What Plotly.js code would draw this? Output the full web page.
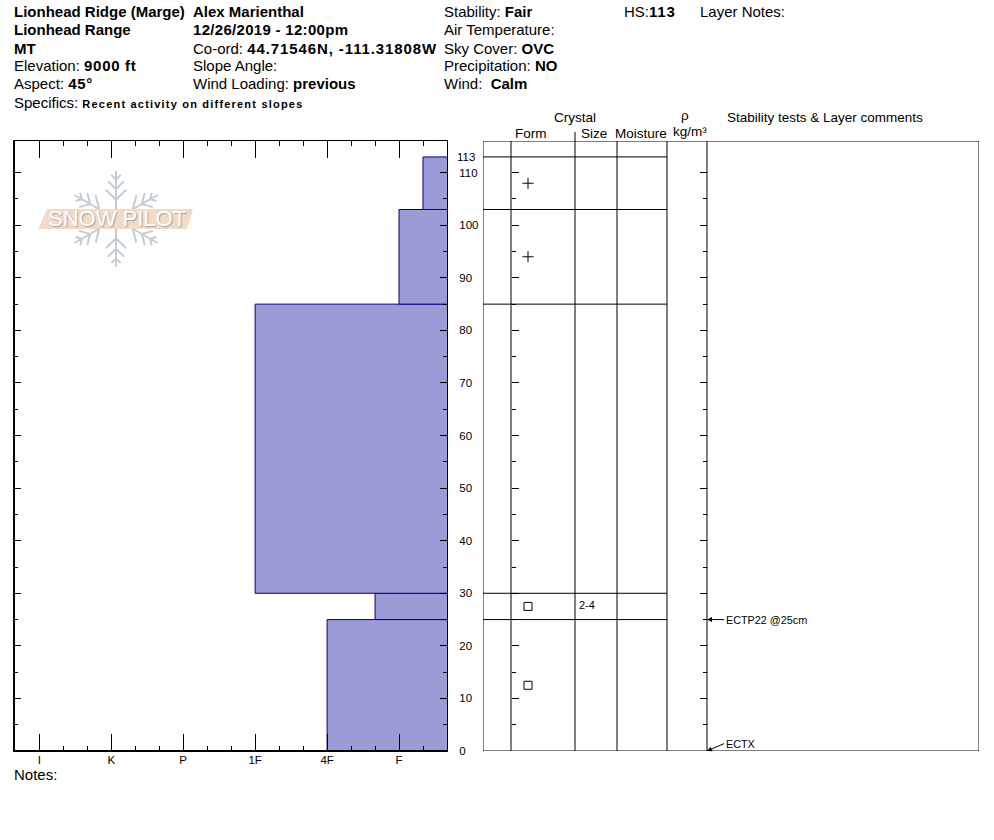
<!DOCTYPE html>
<html><head><meta charset="utf-8">
<script src="https://cdn.plot.ly/plotly-3.0.1.min.js"></script>
<style>html,body{margin:0;padding:0;background:#fff}</style>
</head><body><div id="chart" style="width:994px;height:840px"></div>
<script>
// ---------- DATA ----------
const layerBottoms = [0, 25, 30, 85, 103];
const layerTops    = [25, 30, 85, 103, 113];
const layerHardness = ['4F', 'F+', '1F', 'F', 'F-'];
const layerGrainForm = ['square', 'square', '', 'plus', 'plus'];
const layerGrainSize = ['', '2-4', '', '', ''];
const hardnessTickLabels = ['I', 'K', 'P', '1F', '4F', 'F'];
const hardnessTickValues = [6, 5, 4, 3, 2, 1];
const depthTicks = [0, 10, 20, 30, 40, 50, 60, 70, 80, 90, 100, 110];
const depthMinorTicks = [5, 15, 25, 35, 45, 55, 65, 75, 85, 95, 105];
const totalDepth = 113;
const testDepths = [25, 0];
const testLabels = ['ECTP22 @25cm', 'ECTX'];

// ---------- HELPERS ----------
const W = 994, H = 840;
const px = x => x / W;
const py = y => 1 - y / H;
const hardMap = {'F-':0.667,'F':1,'F+':1.333,'4F-':1.667,'4F':2,'4F+':2.333,'1F-':2.667,'1F':3,'1F+':3.333,'P-':3.667,'P':4,'P+':4.333,'K-':4.667,'K':5,'K+':5.333,'I':6};
const hardnessNum = layerHardness.map(h => hardMap[h]);
const mids = layerBottoms.map((b, i) => (b + layerTops[i]) / 2);
const thick = layerBottoms.map((b, i) => layerTops[i] - b);
const minorHard = [];
for (let k = 1; k <= 6; k++) { minorHard.push(k - 1/3); if (k < 6) minorHard.push(k + 1/3); }

const FONT = 'Liberation Sans, Arial, sans-serif';
const yRange = [0, 116.03];
const yDomain = [py(751), py(141)];
const colForm = 528, colSizeText = 579;
const tableLeft = 483, tableRight = 979;
const colLines = [511, 575, 617, 667, 707];
const layerLineEnd = 667;

// ---------- TRACES ----------
const traces = [];
traces.push({
  type: 'bar', orientation: 'h', x: hardnessNum, y: mids, width: thick, base: 0,
  xaxis: 'x', yaxis: 'y',
  marker: {color: '#9b9bd6', line: {color: '#000080', width: 1}},
  hoverinfo: 'skip', showlegend: false
});
const symMap = {square: 'square-open', plus: 'cross-thin-open'};
const fIdx = layerGrainForm.map((f, i) => f ? i : -1).filter(i => i >= 0);
traces.push({
  type: 'scatter', mode: 'markers', xaxis: 'x2', yaxis: 'y2',
  x: fIdx.map(() => colForm), y: fIdx.map(i => mids[i]),
  marker: {symbol: fIdx.map(i => symMap[layerGrainForm[i]]), size: 8,
    color: 'black', line: {color: 'black', width: 1}},
  hoverinfo: 'skip', showlegend: false, cliponaxis: false
});
const sIdx = layerGrainSize.map((s, i) => s ? i : -1).filter(i => i >= 0);
traces.push({
  type: 'scatter', mode: 'text', xaxis: 'x2', yaxis: 'y2',
  x: sIdx.map(() => colSizeText), y: sIdx.map(i => mids[i]), text: sIdx.map(i => layerGrainSize[i]),
  textposition: 'middle right', textfont: {family: FONT, size: 11, color: 'black'},
  hoverinfo: 'skip', showlegend: false
});
traces.push({type:'scatter', x:[null], y:[null], xaxis:'x', yaxis:'y3', showlegend:false, hoverinfo:'skip'});
traces.push({type:'scatter', x:[null], y:[null], xaxis:'x2', yaxis:'y4', showlegend:false, hoverinfo:'skip'});
traces.push({type:'scatter', x:[null], y:[null], xaxis:'x2', yaxis:'y5', showlegend:false, hoverinfo:'skip'});

// ---------- SHAPES ----------
const shapes = [];
shapes.push({type:'line', xref:'paper', yref:'paper', x0:px(14), x1:px(14), y0:py(751), y1:py(141), line:{color:'black', width:2}});
shapes.push({type:'line', xref:'paper', yref:'paper', x0:px(14), x1:px(447), y0:py(751), y1:py(751), line:{color:'black', width:2}});
shapes.push({type:'rect', xref:'x2', yref:'y2', x0:tableLeft, x1:tableRight, y0:yRange[0], y1:yRange[1], line:{color:'black', width:1}});
colLines.forEach(c => shapes.push({type:'line', xref:'x2', yref:'y2', x0:c, x1:c, y0:yRange[0], y1:yRange[1], line:{color:'black', width:1}}));
shapes.push({type:'line', xref:'x2', yref:'paper', x0:575, x1:575, y0:py(132), y1:py(141), line:{color:'black', width:1}});
layerTops.forEach(t => shapes.push({type:'line', xref:'x2', yref:'y2', x0:tableLeft, x1:layerLineEnd, y0:t, y1:t, line:{color:'black', width:1}}));

// logo: snowflake + banner
(function(){
  const cx = 116, cy = 219, R = 48;
  let d = '';
  const P = (x, y) => px(x).toFixed(5) + ',' + py(y).toFixed(5);
  [90, 30, -30, -90, 150, 210].forEach(a => {
    const r = a * Math.PI / 180;
    const ux = Math.cos(r), uy = -Math.sin(r);
    d += 'M' + P(cx + ux*4, cy + uy*4) + 'L' + P(cx + ux*R, cy + uy*R);
    [0.4, 0.62, 0.82].forEach((t, j) => {
      const bx = cx + ux*R*t, by = cy + uy*R*t;
      const L = R * [0.3, 0.24, 0.14][j];
      [45, -45].forEach(b => {
        const rb = (a + b) * Math.PI / 180;
        d += 'M' + P(bx, by) + 'L' + P(bx + Math.cos(rb)*L, by - Math.sin(rb)*L);
      });
    });
  });
  shapes.push({type:'path', xref:'paper', yref:'paper', path:d, line:{color:'#c2ccd3', width:2}, layer:'below'});
  const b = 'M' + P(47,209) + 'L' + P(193,209) + 'L' + P(187,229) + 'L' + P(38,229) + 'Z';
  shapes.push({type:'path', xref:'paper', yref:'paper', path:b, fillcolor:'#f2dac4', line:{width:0}, layer:'below'});
})();

// ---------- ANNOTATIONS ----------
const ann = [];
const txt = (x, y, t, size, anchor) => ann.push({xref:'paper', yref:'paper', x:px(anchor==='center'?x:x-2), y:py(y), text:t,
  showarrow:false, xanchor:anchor||'left', yanchor:'middle', font:{family:FONT, size:size||15, color:'black'}});
const wide = (t, s) => '<b><span style="letter-spacing:' + s + 'px">' + t + '</span></b>';
txt(14, 12, '<b>Lionhead Ridge (Marge)</b>');
txt(14, 30, '<b>Lionhead Range</b>');
txt(14, 48, '<b>MT</b>');
txt(14, 66, 'Elevation: ' + wide('9000 ft', 0.7));
txt(14, 84, 'Aspect: ' + wide('45°', 0.7));
txt(14, 102, 'Specifics: <span style="font-size:11px;font-weight:bold;letter-spacing:1.2px">Recent activity on different slopes</span>');
txt(193, 12, '<b>Alex Marienthal</b>');
txt(193, 30, wide('12/26/2019 - 12:00pm', 0.3));
txt(193, 48, 'Co-ord: ' + wide('44.71546N, -111.31808W', 0.9));
txt(193, 66, 'Slope Angle:');
txt(193, 84, 'Wind Loading: <b>previous</b>');
txt(444, 12, 'Stability: <b>Fair</b>');
txt(444, 30, 'Air Temperature:');
txt(444, 48, 'Sky Cover: <b>OVC</b>');
txt(444, 66, 'Precipitation: <b>NO</b>');
txt(444, 84, 'Wind:  <b>Calm</b>');
txt(624, 12, 'HS:' + wide(String(totalDepth), 0.8));
txt(700, 12, 'Layer Notes:');
txt(14, 774, 'Notes:');
txt(575, 118, 'Crystal', 13.5, 'center');
txt(531, 133, 'Form', 13.5, 'center');
txt(594, 133, 'Size', 13.5, 'center');
txt(641, 133, 'Moisture', 13.5, 'center');
txt(685, 116, 'ρ', 13.5, 'center');
txt(690, 131, 'kg/m³', 13.5, 'center');
txt(727, 118, 'Stability tests &amp; Layer comments', 13.5);
ann.push({xref:'paper', yref:'paper', x:px(117), y:py(219), text:'SNOW PILOT', showarrow:false,
  xanchor:'center', yanchor:'middle',
  font:{family:FONT, size:22, color:'white', shadow:'1px 1px 1px #9aa0a6'}});
testDepths.forEach((dp, i) => ann.push({
  xref:'x2', yref:'y2', x:707, y:dp, axref:'x2', ayref:'y2', ax:724, ay: Math.max(dp, 1.4),
  text: testLabels[i], xanchor:'left', yanchor:'middle', showarrow:true, arrowhead:2, arrowsize:1,
  arrowwidth:1, arrowcolor:'black', standoff:0, startstandoff:0,
  font:{family:FONT, size:10.8, color:'black'}
}));

// ---------- LAYOUT ----------
const axLine = {showline:true, linecolor:'black', linewidth:1, mirror:'ticks', showgrid:false, zeroline:false, fixedrange:true, tickcolor:'black', tickwidth:1};
const layout = {
  width: W, height: H, margin:{l:0, r:0, t:0, b:0},
  paper_bgcolor:'white', plot_bgcolor:'rgba(0,0,0,0)', showlegend:false,
  font:{family:FONT, color:'black'},
  bargap: 0,
  xaxis: Object.assign({}, axLine, {domain:[px(14), px(447)], range:[6.352, 0.333], anchor:'y',
    tickmode:'array', tickvals:hardnessTickValues, ticktext:hardnessTickLabels, ticks:'inside', ticklen:17,
    ticklabelstandoff:-2, tickfont:{size:11.5, family:FONT},
    minor:{tickmode:'array', tickvals:minorHard, ticks:'inside', ticklen:5, tickcolor:'black', tickwidth:1, showgrid:false}}),
  yaxis: Object.assign({}, axLine, {domain:yDomain, range:yRange, anchor:'x', side:'right',
    tickmode:'array', tickvals:depthTicks, ticks:'inside', ticklen:7, ticklabelstandoff:9,
    tickfont:{size:11.5, family:FONT},
    minor:{tickmode:'array', tickvals:depthMinorTicks, ticks:'inside', ticklen:4, tickcolor:'black', tickwidth:1, showgrid:false}}),
  yaxis3: {overlaying:'y', anchor:'x', side:'right', range:yRange, tickmode:'array', tickvals:[totalDepth], ticktext:[String(totalDepth)],
    ticks:'', showline:false, showgrid:false, zeroline:false, ticklabelstandoff:9, tickfont:{size:11.5, family:FONT}, fixedrange:true},
  xaxis2: {domain:[px(tableLeft), px(tableRight)], range:[tableLeft, tableRight], anchor:'y2', visible:false, fixedrange:true},
  yaxis2: {domain:yDomain, range:yRange, anchor:'x2', visible:false, fixedrange:true},
  yaxis4: {overlaying:'y2', anchor:'free', position:px(511), side:'left', range:yRange, tickmode:'array', tickvals:depthTicks,
    ticks:'inside', ticklen:7, tickcolor:'black', showticklabels:false, showline:false, showgrid:false, zeroline:false, fixedrange:true,
    minor:{tickmode:'array', tickvals:depthMinorTicks, ticks:'inside', ticklen:4, tickcolor:'black', showgrid:false}},
  yaxis5: {overlaying:'y2', anchor:'free', position:px(707), side:'right', range:yRange, tickmode:'array', tickvals:depthTicks,
    ticks:'inside', ticklen:7, tickcolor:'black', showticklabels:false, showline:false, showgrid:false, zeroline:false, fixedrange:true,
    minor:{tickmode:'array', tickvals:depthMinorTicks, ticks:'inside', ticklen:4, tickcolor:'black', showgrid:false}},
  shapes: shapes,
  annotations: ann
};
Plotly.newPlot('chart', traces, layout, {staticPlot:true, displayModeBar:false});
</script>
</body></html>
